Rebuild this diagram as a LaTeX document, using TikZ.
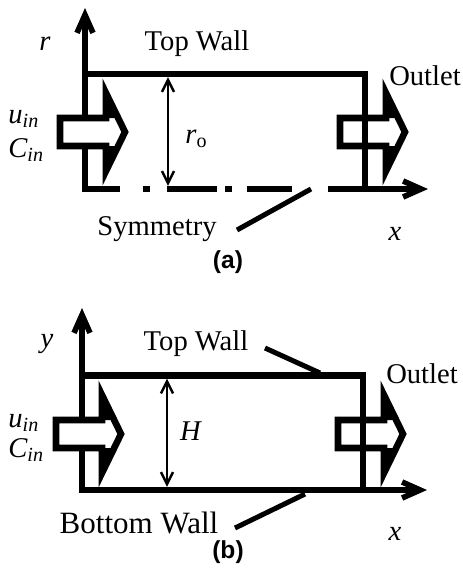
\documentclass[tikz,border=0pt]{standalone}
\usepackage{fontspec}
\setmainfont{Liberation Serif}
\newfontfamily\capfont{Liberation Sans}
\usetikzlibrary{arrows.meta, positioning, calc}

\begin{document}
\begin{tikzpicture}[x=0.5pt, y=-0.5pt,
    lbl/.style={font=\fontsize{14.3}{17}\selectfont, inner sep=0pt},
    capt/.style={font=\capfont\bfseries\fontsize{12.3}{14}\selectfont, inner sep=0pt},
    wall/.style={line width=3.3pt, line join=miter},
    axis/.style={line width=2.8pt, -{Straight Barb[length=9pt, width=8pt]}},
    axes/.style={line width=2.8pt, line join=miter, {Straight Barb[length=9pt, width=8pt]}-{Straight Barb[length=9pt, width=8pt]}},
    dim/.style={line width=1.2pt, shorten <=1.6pt, shorten >=1.6pt, {Straight Barb[length=6pt, width=6pt]}-{Straight Barb[length=6pt, width=6pt]}},
    ptr/.style={line width=2.5pt},
    flow/.style={line width=3.3pt, line join=miter}
  ]
  \useasboundingbox (0,0) rectangle (462,568);

  % axes of both panels
  \coordinate (oA) at (85,189);
  \coordinate (rA) at (85,8);
  \coordinate (xA) at (428,189);
  \coordinate (oB) at (82,490);
  \coordinate (yB) at (82,308);
  \coordinate (xB) at (427,490);
  \draw[axis, line cap=rect] (oA) -- (rA);
  \draw[axis, dash pattern=on 17.5pt off 11.5pt on 3.5pt off 8.5pt on 25pt off 4pt on 3.5pt off 7.5pt on 22.5pt off 18pt on 100pt] (oA) -- (xA);
  \draw[axes] (yB) -- (oB) -- (xB);

  % block arrows: inlet and outlet of both panels
  \foreach \lx/\cy/\bg in {60/132/white, 340/132/none, 56/434/white, 338/434/none} {
    \draw[flow, fill=\bg] (\lx,\cy-14) -- ++(46,0) -- ++(0,-25) -- ++(19,39) -- ++(-19,39) -- ++(0,-25) -- ++(-46,0) -- cycle;
    \fill (\lx+46,\cy-39) -- ++(12.2,25) -- ++(-12.2,0) -- cycle;
    \fill (\lx+46,\cy+39) -- ++(12.2,-25) -- ++(-12.2,0) -- cycle;
  }

  % (a) pipe with symmetry axis
  \coordinate (tlA) at (85,74);
  \coordinate (trA) at (365,74);
  \coordinate (brA) at (365,189);
  \draw[wall] (tlA) -- (trA) -- (brA);
  \coordinate (dtA) at (168,74);
  \coordinate (dbA) at (168,189);
  \draw[dim] (dtA) -- (dbA);
  \node[lbl, anchor=base] (rlA) at (45,50) {\textit{r}};
  \node[lbl, anchor=base] (topA) at (197,50) {Top Wall};
  \node[lbl, anchor=base] (outA) at (425,85) {Outlet};
  \node[lbl, anchor=base west] (uA) at (8,123) {\textit{u\textsubscript{in}}};
  \node[lbl, anchor=base west] (cA) at (8,157) {\textit{C\textsubscript{in}}};
  \node[lbl, anchor=base west] (roA) at (185,143) {\textit{r}\textsubscript{o}};
  \node[lbl, anchor=base] (symA) at (157,235) {Symmetry};
  \node[lbl, anchor=base] (xlA) at (395,240) {\textit{x}};
  \node[capt] (capA) at (228,262) {(a)};
  \coordinate (s1A) at (237,230);
  \coordinate (s2A) at (311,189);
  \draw[ptr] (s1A) -- (s2A);

  % (b) channel between two walls
  \coordinate (tlB) at (82,375.5);
  \coordinate (trB) at (363,375.5);
  \coordinate (brB) at (363,490);
  \draw[wall] (tlB) -- (trB) -- (brB);
  \draw[wall] (oB) -- (brB);
  \coordinate (dtB) at (167,375.5);
  \coordinate (dbB) at (167,490);
  \draw[dim] (dtB) -- (dbB);
  \node[lbl, anchor=base] (ylB) at (47,347) {\textit{y}};
  \node[lbl, anchor=base] (topB) at (196,350) {Top Wall};
  \node[lbl, anchor=base] (outB) at (422,383) {Outlet};
  \node[lbl, anchor=base west] (uB) at (8,427) {\textit{u\textsubscript{in}}};
  \node[lbl, anchor=base west] (cB) at (8,457) {\textit{C\textsubscript{in}}};
  \node[lbl, anchor=base] (hB) at (191,440) {\textit{H}};
  \node[lbl, anchor=base, font=\fontsize{15.5}{18}\selectfont] (botB) at (139,533) {Bottom Wall};
  \node[lbl, anchor=base] (xlB) at (395,540) {\textit{x}};
  \node[capt] (capB) at (228,552) {(b)};
  \coordinate (t1B) at (265,348);
  \coordinate (t2B) at (320,373);
  \coordinate (b1B) at (235,528);
  \coordinate (b2B) at (305,494);
  \draw[ptr] (t1B) -- (t2B);
  \draw[ptr] (b1B) -- (b2B);
\end{tikzpicture}
\end{document}
